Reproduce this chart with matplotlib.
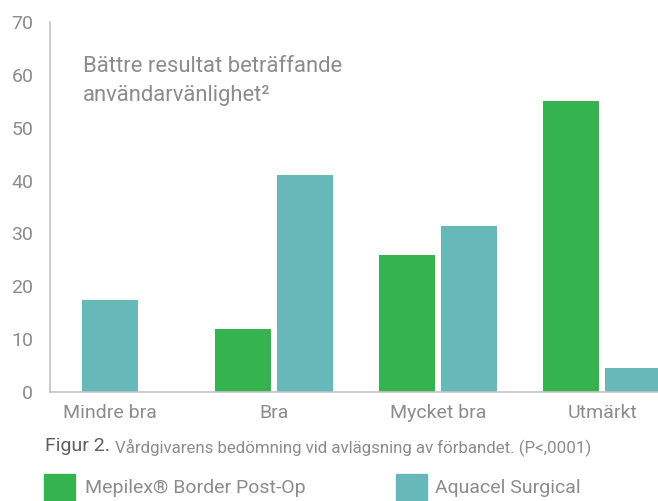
import numpy as np
import matplotlib
matplotlib.use("Agg")
import matplotlib.pyplot as plt
from matplotlib.patches import Rectangle

plt.rcParams['font.family'] = ['Roboto', 'DejaVu Sans']

categories = ["Mindre bra", "Bra", "Mycket bra", "Utmärkt"]
mepilex = [0, 12, 26, 55]          # 0 = no bar drawn
aquacel = [17.5, 41, 31.5, 4.5]
series_names = ["Mepilex® Border Post-Op", "Aquacel Surgical"]

green = "#34b34e"
teal = "#67b8b9"
grey = "#8c8c8c"

fig = plt.figure(figsize=(6.58, 5.01), dpi=100)
ax = fig.add_axes([50/658, 109/501, 608/658, 370/501])

width = 0.341
off = 0.189
x = np.arange(len(categories))
for i in range(len(categories)):
    if mepilex[i] > 0:
        ax.bar(x[i] - off, mepilex[i], width, color=green)
        ax.bar(x[i] + off, aquacel[i], width, color=teal)
    else:
        ax.bar(x[i], aquacel[i], width, color=teal)

ax.set_xlim(-0.366, 3.341)
ax.set_ylim(0, 70)
ax.set_yticks(range(0, 71, 10))
ax.set_xticks(x)
ax.set_xticklabels(categories)
ax.tick_params(length=0, labelsize=14, colors=grey)
ax.tick_params(axis="y", pad=12)
ax.tick_params(axis="x", pad=9)
for s in ["top", "right"]:
    ax.spines[s].set_visible(False)
for s in ["left", "bottom"]:
    ax.spines[s].set_color("#c4c4c4")
    ax.spines[s].set_linewidth(1.2)

ax.text(-0.165, 60.5, "Bättre resultat beträffande", fontsize=15.8,
        color=grey, va="baseline")
ax.text(-0.165, 55.0, "användarvänlighet²", fontsize=15.8,
        color=grey, va="baseline")

fig.text(45/658, 1 - 446/501, "Figur 2.", fontsize=14, color="#5f5f5f",
         va="center")
fig.text(115/658, 1 - 447/501,
         "Vårdgivarens bedömning vid avlägsning av förbandet. (P<,0001)",
         fontsize=12.2, color=grey, va="center")

fig.patches.append(Rectangle((44/658, 0), 31/658, 27/501,
                             transform=fig.transFigure, color=green))
fig.patches.append(Rectangle((396/658, 0), 31/658, 27/501,
                             transform=fig.transFigure, color=teal))
fig.text(85/658, 1 - 488/501, series_names[0], fontsize=14, color=grey,
         va="center")
fig.text(435/658, 1 - 488/501, series_names[1], fontsize=14, color=grey,
         va="center")

fig.savefig("out.png", dpi=100)
